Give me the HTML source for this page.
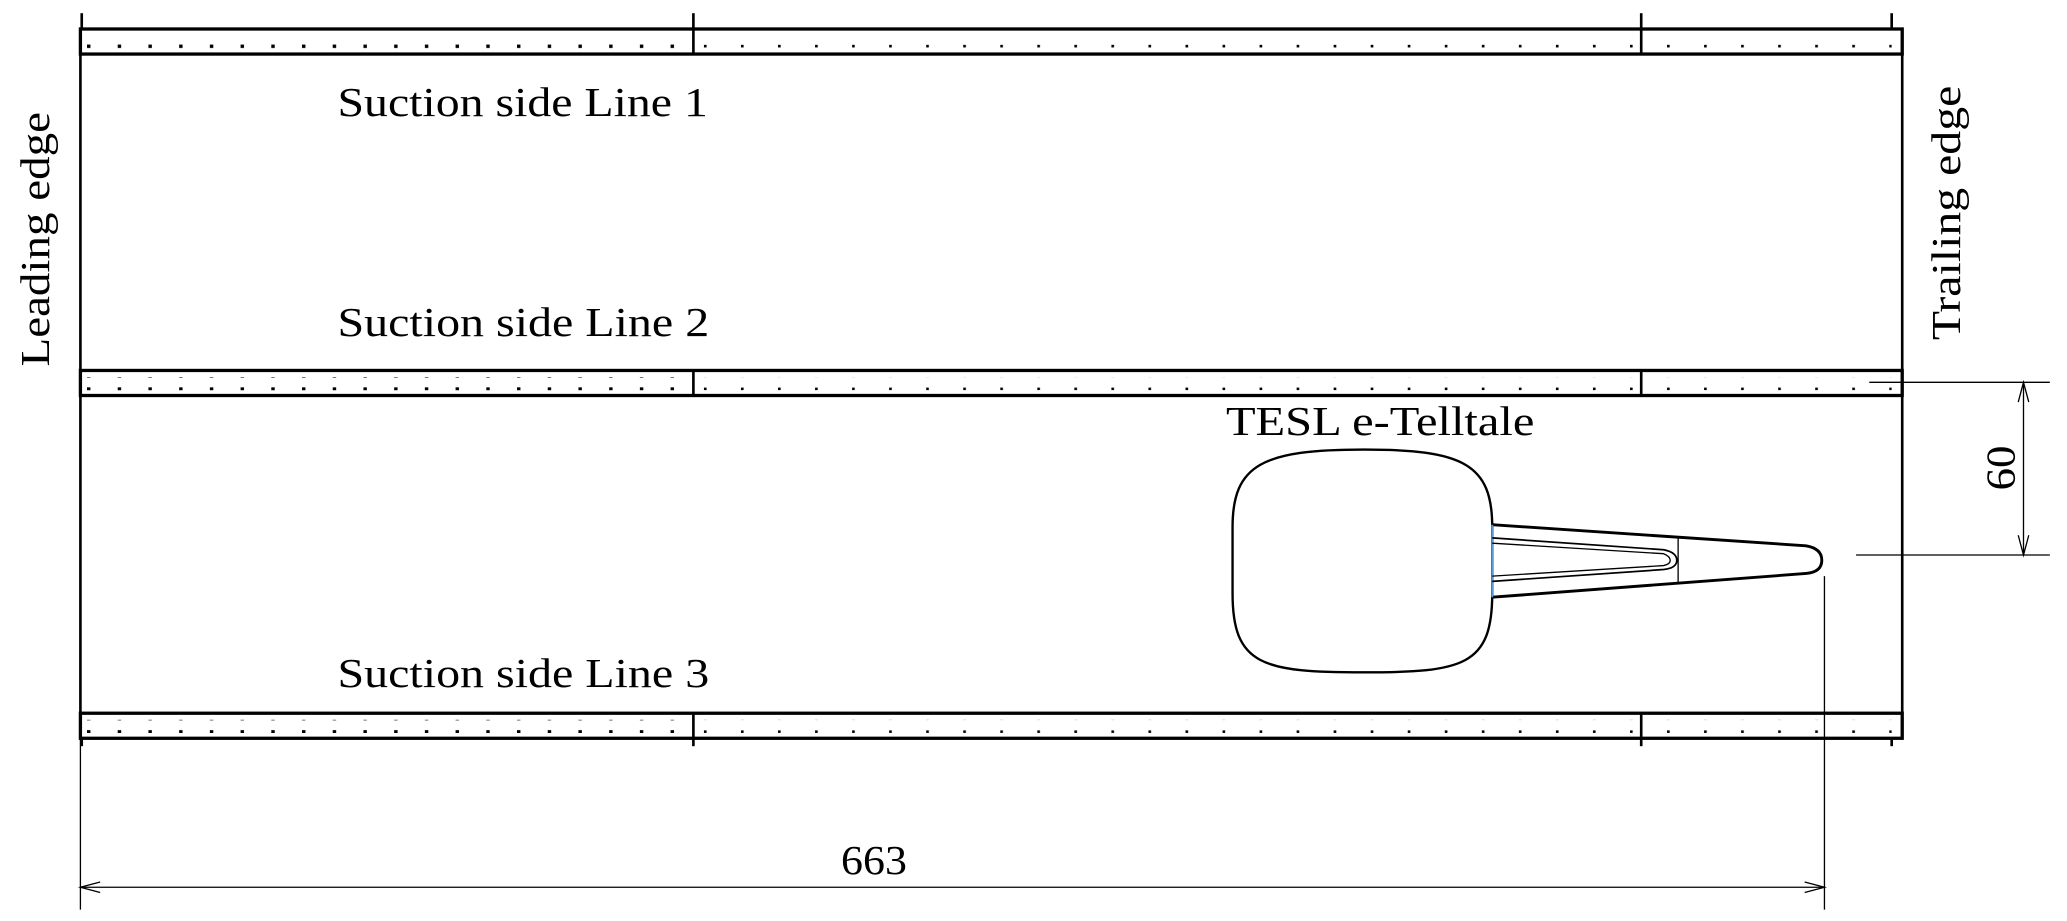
<!DOCTYPE html>
<html><head><meta charset="utf-8"><style>
html,body{margin:0;padding:0;background:#fff;}
svg{display:block}
text{font-family:"Liberation Serif",serif;fill:#000}
</style></head><body>
<svg width="2067" height="921" viewBox="0 0 1568 698.6" preserveAspectRatio="none">
<defs>
<pattern id="d1" x="66" y="0" width="23.3" height="10" patternUnits="userSpaceOnUse"><rect x="0" y="3.8" width="2.6" height="2.6" fill="#000"/></pattern>
<pattern id="d2" x="534" y="0" width="28.1" height="10" patternUnits="userSpaceOnUse"><rect x="0" y="4" width="2" height="2" fill="#000"/></pattern>
</defs>
<g stroke="#000" fill="none">
<rect x="61" y="22" width="1382" height="19" stroke-width="2.5"/>
<rect x="61" y="281" width="1382" height="19" stroke-width="2.5"/>
<rect x="61" y="541" width="1382" height="19" stroke-width="2.5"/>
<line x1="61" y1="22" x2="61" y2="560" stroke-width="2"/>
<line x1="1443" y1="22" x2="1443" y2="560" stroke-width="2"/>
<line x1="62" y1="10" x2="62" y2="22" stroke-width="2"/>
<line x1="526" y1="10" x2="526" y2="41" stroke-width="2"/>
<line x1="1245" y1="10" x2="1245" y2="41" stroke-width="2"/>
<line x1="1435" y1="10" x2="1435" y2="22" stroke-width="2"/>
<line x1="526" y1="281" x2="526" y2="300" stroke-width="2"/>
<line x1="1245" y1="281" x2="1245" y2="300" stroke-width="2"/>
<line x1="526" y1="541" x2="526" y2="566" stroke-width="2"/>
<line x1="1245" y1="541" x2="1245" y2="566" stroke-width="2"/>
<line x1="62" y1="560" x2="62" y2="566" stroke-width="2"/>
<line x1="1435" y1="560" x2="1435" y2="566" stroke-width="2"/>
<line x1="1418" y1="290" x2="1555" y2="290" stroke-width="1"/>
<line x1="1408" y1="421" x2="1555" y2="421" stroke-width="1"/>
<line x1="1535" y1="290" x2="1535" y2="421" stroke-width="1"/>
<polyline points="1531,305 1535,290 1539,305" stroke-width="1"/>
<polyline points="1531,406 1535,421 1539,406" stroke-width="1"/>
<line x1="61" y1="560" x2="61" y2="690" stroke-width="1"/>
<line x1="1384" y1="437" x2="1384" y2="690" stroke-width="1"/>
<line x1="61" y1="673" x2="1384" y2="673" stroke-width="1"/>
<polyline points="76,669 61,673 76,677" stroke-width="1"/>
<polyline points="1369,669 1384,673 1369,677" stroke-width="1"/>
<path d="M1035,341 C1110,341 1132,352 1132,400 L1132,450 C1132,505 1110,510 1035,510 C958,510 935,505 935,450 L935,400 C935,352 958,341 1035,341 Z" stroke-width="1.8"/>
<path d="M1132,398 L1370,414 Q1382,416 1382,425 Q1382,434 1370,435 L1132,453" stroke-width="2.2"/>
<line x1="1132" y1="398" x2="1132" y2="453" stroke="#5a9ad8" stroke-width="1.5"/>
<line x1="1273" y1="407" x2="1273" y2="443" stroke-width="1"/>
<path d="M1132,408 L1262,417 Q1272,419 1272,425 Q1272,431 1262,432 L1132,441" stroke-width="1.3"/>
<path d="M1132,412 L1262,420 Q1267,422 1267,425 Q1267,428 1262,429 L1132,437" stroke-width="1"/>
</g>
<rect x="63" y="27" width="463" height="10" fill="url(#d1)"/>
<rect x="530" y="27" width="713" height="10" fill="url(#d2)"/>
<rect x="1250" y="27" width="185" height="10" fill="url(#d2)"/>
<rect x="63" y="286" width="463" height="10" fill="url(#d1)"/>
<rect x="530" y="286" width="713" height="10" fill="url(#d2)"/>
<rect x="1250" y="286" width="185" height="10" fill="url(#d2)"/>
<rect x="63" y="546" width="463" height="10" fill="url(#d1)"/>
<rect x="530" y="546" width="713" height="10" fill="url(#d2)"/>
<rect x="1250" y="546" width="185" height="10" fill="url(#d2)"/>
<text x="256" y="88" font-size="31" textLength="281" lengthAdjust="spacingAndGlyphs">Suction side Line 1</text>
<text x="256" y="255" font-size="31" textLength="282" lengthAdjust="spacingAndGlyphs">Suction side Line 2</text>
<text x="256" y="521" font-size="31" textLength="282" lengthAdjust="spacingAndGlyphs">Suction side Line 3</text>
<text x="930" y="330" font-size="31" textLength="234" lengthAdjust="spacingAndGlyphs">TESL e-Telltale</text>
<text x="638" y="663" font-size="31" textLength="50" lengthAdjust="spacingAndGlyphs">663</text>
<text transform="translate(1528,372) rotate(-90)" font-size="31" textLength="34" lengthAdjust="spacingAndGlyphs">60</text>
<text transform="translate(37,278) rotate(-90)" font-size="31" textLength="193" lengthAdjust="spacingAndGlyphs">Leading edge</text>
<text transform="translate(1487,258) rotate(-90)" font-size="31" textLength="193" lengthAdjust="spacingAndGlyphs">Trailing edge</text>
</svg>
</body></html>
